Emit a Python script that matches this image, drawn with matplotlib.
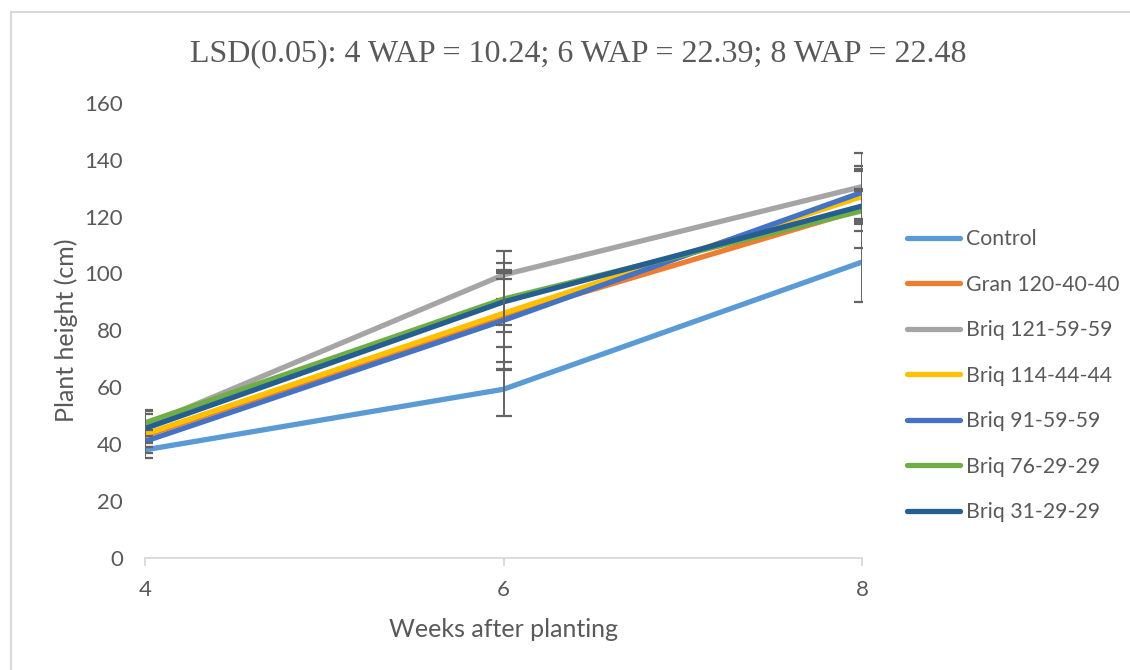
#!/usr/bin/env python3
"""Plant height vs weeks after planting, Excel-style line chart with error bars."""
import matplotlib
matplotlib.use("Agg")
import matplotlib.pyplot as plt
from matplotlib.patches import Rectangle

weeks = [4, 6, 8]
series_names = ["Control", "Gran 120-40-40", "Briq 121-59-59", "Briq 114-44-44",
                "Briq 91-59-59", "Briq 76-29-29", "Briq 31-29-29"]
control = [38.0, 59.3, 104.0]
gran_120 = [43.0, 85.0, 122.5]
briq_121 = [46.5, 99.5, 130.5]
briq_114 = [43.5, 86.0, 127.0]
briq_91 = [41.0, 83.5, 128.5]
briq_76 = [47.5, 91.0, 122.0]
briq_31 = [45.5, 90.0, 123.7]

err_control = [2.8, 9.5, 14.2]
err_gran_120 = [4.0, 18.5, 13.5]
err_briq_121 = [5.0, 8.5, 11.8]
err_briq_114 = [4.5, 12.0, 9.8]
err_briq_91 = [4.0, 17.6, 9.4]
err_briq_76 = [4.5, 9.0, 7.0]
err_briq_31 = [5.0, 10.5, 6.0]

colors = ["#5b9bd5", "#ed7d31", "#a5a5a5", "#ffc000", "#4472c4", "#70ad47", "#255e91"]

TXT = "#595959"
SANS = ["Lato", "DejaVu Sans"]

fig = plt.figure(figsize=(11.3, 6.7), dpi=100)
ax = fig.add_axes([145 / 1130, 1 - 558 / 670, (862 - 145) / 1130, (558 - 102.7) / 670])

# light chart-area border
fig.patches.append(Rectangle((11 / 1130, -0.02), 1.0, 1 - 12 / 670 + 0.02,
                             transform=fig.transFigure, fill=False,
                             edgecolor="#d9d9d9", linewidth=1.5))

values = [control, gran_120, briq_121, briq_114, briq_91, briq_76, briq_31]
errors = [err_control, err_gran_120, err_briq_121, err_briq_114, err_briq_91,
          err_briq_76, err_briq_31]
for name, vals, err, color in zip(series_names, values, errors, colors):
    ax.plot(weeks, vals, color=color, lw=3.8, label=name, solid_capstyle="round")
    ax.errorbar(weeks, vals, yerr=err, fmt="none", ecolor="#646464",
                elinewidth=1.4, capsize=5.5, capthick=1.6)

ax.set_xlim(4, 8)
ax.set_ylim(0, 160)
ax.set_xticks(weeks)
ax.set_yticks(range(0, 161, 20))
for side in ["top", "right", "left"]:
    ax.spines[side].set_visible(False)
ax.spines["bottom"].set_color("#d9d9d9")
ax.spines["bottom"].set_linewidth(1.3)
ax.spines["bottom"].set_zorder(0)
ax.tick_params(axis="x", length=6, width=1.3, color="#d9d9d9", pad=10,
               labelsize=16, labelcolor=TXT)
ax.tick_params(axis="y", length=0, pad=16, labelsize=16, labelcolor=TXT)
for lab in ax.get_xticklabels() + ax.get_yticklabels():
    lab.set_family(SANS)

ax.set_xlabel("Weeks after planting", fontsize=18, color=TXT, family=SANS, labelpad=13)
ax.set_ylabel("Plant height (cm)", fontsize=18, color=TXT, family=SANS, labelpad=4)

fig.text(578 / 1130, 1 - 54 / 670, "LSD(0.05): 4 WAP = 10.24; 6 WAP = 22.39; 8 WAP = 22.48",
         ha="center", va="center", fontsize=23, color=TXT, family="Liberation Serif")

leg = ax.legend(loc="upper left", bbox_to_anchor=(888 / 1130, 1 - 210 / 670),
                bbox_transform=fig.transFigure, frameon=False, handlelength=2.5,
                handletextpad=0.25, labelspacing=1.2, prop={"family": SANS, "size": 15.3})
for t in leg.get_texts():
    t.set_color(TXT)
for h in leg.get_lines():
    h.set_linewidth(3.8)

fig.savefig("out.png", dpi=100, facecolor="white")
